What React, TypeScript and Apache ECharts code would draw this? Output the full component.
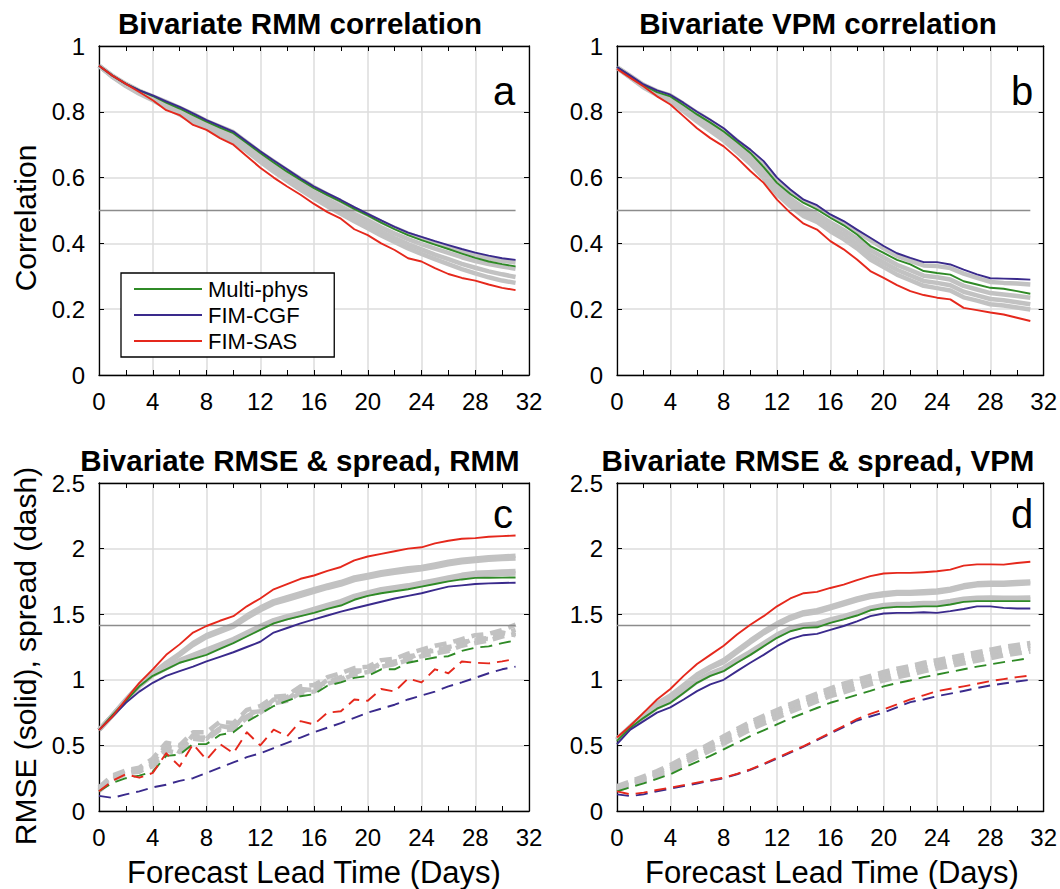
import React, { useEffect, useRef } from "react";
import * as echarts from "echarts";

// ---------- data ----------
const days = [0, 1, 2, 3, 4, 5, 6, 7, 8, 9, 10, 11, 12, 13, 14, 15, 16, 17, 18, 19, 20, 21, 22, 23, 24, 25, 26, 27, 28, 29, 30, 31];
const refDays = [0, 31];
const corrRef = 0.5;
const rmseRef = 1.414;

const legendNames = ["Multi-phys", "FIM-CGF", "FIM-SAS"];
const panelTitles = ["Bivariate RMM correlation", "Bivariate VPM correlation", "Bivariate RMSE & spread, RMM", "Bivariate RMSE & spread, VPM"];
const panelLetters = ["a", "b", "c", "d"];
const corrTicks = [0, 0.2, 0.4, 0.6, 0.8, 1];
const rmseTicks = [0, 0.5, 1, 1.5, 2, 2.5];
const xTicks = [0, 4, 8, 12, 16, 20, 24, 28, 32];

// Panel a: RMM correlation
const aMulti = [0.94, 0.91, 0.885, 0.865, 0.848, 0.828, 0.81, 0.79, 0.77, 0.752, 0.735, 0.705, 0.675, 0.646, 0.618, 0.593, 0.568, 0.547, 0.527, 0.505, 0.485, 0.463, 0.443, 0.425, 0.41, 0.396, 0.383, 0.369, 0.356, 0.345, 0.337, 0.33];
const aCGF = [0.94, 0.91, 0.885, 0.865, 0.85, 0.832, 0.815, 0.795, 0.775, 0.757, 0.74, 0.71, 0.68, 0.652, 0.625, 0.598, 0.573, 0.552, 0.532, 0.51, 0.49, 0.47, 0.45, 0.433, 0.42, 0.407, 0.395, 0.383, 0.372, 0.363, 0.355, 0.35];
const aSAS = [0.94, 0.91, 0.885, 0.86, 0.835, 0.805, 0.79, 0.76, 0.745, 0.72, 0.7, 0.665, 0.63, 0.6, 0.573, 0.548, 0.52, 0.495, 0.475, 0.443, 0.425, 0.4, 0.38, 0.355, 0.345, 0.325, 0.307, 0.295, 0.287, 0.275, 0.265, 0.258];
const aGrey1 = [0.94, 0.91, 0.885, 0.864, 0.847, 0.83, 0.812, 0.793, 0.772, 0.755, 0.738, 0.707, 0.677, 0.649, 0.622, 0.596, 0.571, 0.549, 0.528, 0.506, 0.487, 0.466, 0.447, 0.43, 0.415, 0.402, 0.388, 0.376, 0.364, 0.354, 0.347, 0.342];
const aGrey2 = [0.94, 0.908, 0.882, 0.86, 0.842, 0.822, 0.803, 0.783, 0.762, 0.745, 0.727, 0.696, 0.665, 0.636, 0.607, 0.582, 0.556, 0.534, 0.512, 0.49, 0.47, 0.449, 0.43, 0.413, 0.398, 0.384, 0.371, 0.358, 0.346, 0.337, 0.33, 0.323];
const aGrey3 = [0.94, 0.907, 0.88, 0.857, 0.838, 0.817, 0.797, 0.776, 0.755, 0.736, 0.718, 0.687, 0.656, 0.627, 0.598, 0.572, 0.546, 0.523, 0.5, 0.478, 0.457, 0.436, 0.416, 0.398, 0.382, 0.366, 0.352, 0.338, 0.326, 0.315, 0.306, 0.298];
const aGrey4 = [0.94, 0.906, 0.878, 0.855, 0.835, 0.813, 0.792, 0.77, 0.75, 0.73, 0.71, 0.68, 0.648, 0.618, 0.59, 0.563, 0.537, 0.513, 0.49, 0.467, 0.446, 0.424, 0.404, 0.385, 0.368, 0.352, 0.337, 0.322, 0.309, 0.297, 0.287, 0.28];

// Panel b: VPM correlation
const bMulti = [0.936, 0.908, 0.88, 0.86, 0.847, 0.82, 0.792, 0.767, 0.74, 0.708, 0.675, 0.632, 0.584, 0.55, 0.523, 0.503, 0.478, 0.455, 0.427, 0.392, 0.371, 0.35, 0.336, 0.316, 0.31, 0.305, 0.285, 0.275, 0.265, 0.262, 0.255, 0.247];
const bCGF = [0.936, 0.91, 0.883, 0.865, 0.852, 0.827, 0.8, 0.776, 0.75, 0.715, 0.685, 0.65, 0.6, 0.564, 0.533, 0.516, 0.488, 0.468, 0.442, 0.417, 0.392, 0.37, 0.356, 0.343, 0.343, 0.336, 0.32, 0.306, 0.294, 0.293, 0.292, 0.29];
const bSAS = [0.93, 0.903, 0.877, 0.847, 0.822, 0.786, 0.75, 0.72, 0.695, 0.66, 0.62, 0.584, 0.533, 0.493, 0.46, 0.442, 0.407, 0.382, 0.351, 0.316, 0.295, 0.273, 0.255, 0.243, 0.235, 0.23, 0.204, 0.197, 0.19, 0.184, 0.174, 0.164];
const bGrey1 = [0.936, 0.909, 0.882, 0.863, 0.85, 0.824, 0.797, 0.772, 0.745, 0.712, 0.68, 0.642, 0.593, 0.558, 0.528, 0.51, 0.483, 0.462, 0.436, 0.41, 0.385, 0.362, 0.347, 0.333, 0.331, 0.325, 0.308, 0.295, 0.283, 0.28, 0.278, 0.275];
const bGrey2 = [0.935, 0.907, 0.879, 0.858, 0.843, 0.815, 0.786, 0.759, 0.731, 0.697, 0.663, 0.622, 0.572, 0.537, 0.508, 0.49, 0.464, 0.441, 0.414, 0.38, 0.357, 0.335, 0.319, 0.302, 0.297, 0.29, 0.271, 0.26, 0.249, 0.245, 0.24, 0.235];
const bGrey3 = [0.934, 0.905, 0.876, 0.854, 0.838, 0.808, 0.778, 0.75, 0.722, 0.687, 0.652, 0.609, 0.56, 0.524, 0.495, 0.477, 0.45, 0.427, 0.399, 0.365, 0.342, 0.32, 0.303, 0.286, 0.28, 0.273, 0.253, 0.242, 0.231, 0.227, 0.221, 0.215];
const bGrey4 = [0.933, 0.904, 0.874, 0.851, 0.833, 0.802, 0.771, 0.742, 0.713, 0.678, 0.642, 0.598, 0.55, 0.513, 0.483, 0.465, 0.437, 0.413, 0.385, 0.351, 0.328, 0.305, 0.288, 0.271, 0.264, 0.257, 0.236, 0.226, 0.215, 0.211, 0.205, 0.199];

// Panel c: RMM RMSE (solid) and spread (dash)
const cMulti = [0.617, 0.73, 0.84, 0.95, 1.03, 1.08, 1.13, 1.16, 1.19, 1.235, 1.28, 1.33, 1.38, 1.43, 1.46, 1.485, 1.51, 1.54, 1.566, 1.61, 1.64, 1.66, 1.675, 1.69, 1.71, 1.73, 1.75, 1.765, 1.777, 1.778, 1.779, 1.78];
const cCGF = [0.617, 0.72, 0.825, 0.91, 0.977, 1.03, 1.066, 1.1, 1.14, 1.175, 1.21, 1.25, 1.29, 1.36, 1.395, 1.43, 1.46, 1.49, 1.52, 1.545, 1.57, 1.595, 1.62, 1.64, 1.66, 1.685, 1.71, 1.72, 1.73, 1.735, 1.738, 1.74];
const cSAS = [0.617, 0.72, 0.85, 0.977, 1.08, 1.19, 1.27, 1.36, 1.41, 1.45, 1.485, 1.56, 1.62, 1.69, 1.73, 1.77, 1.795, 1.83, 1.86, 1.91, 1.94, 1.96, 1.98, 2.0, 2.01, 2.04, 2.06, 2.075, 2.08, 2.09, 2.095, 2.1];
const cGrey1 = [0.617, 0.73, 0.85, 0.96, 1.05, 1.13, 1.2, 1.28, 1.34, 1.38, 1.42, 1.49, 1.55, 1.6, 1.63, 1.66, 1.69, 1.72, 1.745, 1.78, 1.8, 1.82, 1.835, 1.85, 1.86, 1.88, 1.9, 1.915, 1.925, 1.935, 1.94, 1.945];
const cGrey2 = [0.617, 0.728, 0.845, 0.955, 1.04, 1.12, 1.19, 1.265, 1.325, 1.365, 1.405, 1.47, 1.53, 1.58, 1.61, 1.64, 1.67, 1.7, 1.725, 1.76, 1.78, 1.8, 1.815, 1.83, 1.842, 1.86, 1.88, 1.895, 1.905, 1.915, 1.92, 1.925];
const cGrey3 = [0.617, 0.73, 0.845, 0.955, 1.04, 1.095, 1.15, 1.19, 1.23, 1.27, 1.31, 1.36, 1.41, 1.455, 1.485, 1.51, 1.54, 1.57, 1.6, 1.64, 1.665, 1.69, 1.705, 1.72, 1.74, 1.76, 1.78, 1.8, 1.815, 1.82, 1.825, 1.83];
const cGrey4 = [0.617, 0.728, 0.842, 0.95, 1.035, 1.088, 1.14, 1.18, 1.215, 1.255, 1.295, 1.345, 1.395, 1.44, 1.47, 1.497, 1.525, 1.555, 1.583, 1.625, 1.652, 1.675, 1.69, 1.705, 1.725, 1.745, 1.765, 1.783, 1.797, 1.803, 1.807, 1.81];
const cMultiSpread = [0.15, 0.215, 0.25, 0.27, 0.3, 0.42, 0.43, 0.51, 0.51, 0.58, 0.6, 0.68, 0.74, 0.8, 0.84, 0.875, 0.89, 0.955, 0.98, 1.015, 1.03, 1.08, 1.08, 1.13, 1.15, 1.17, 1.18, 1.22, 1.245, 1.255, 1.28, 1.3];
const cCGFSpread = [0.115, 0.1, 0.127, 0.15, 0.18, 0.2, 0.23, 0.25, 0.29, 0.33, 0.37, 0.41, 0.44, 0.48, 0.52, 0.56, 0.6, 0.635, 0.67, 0.71, 0.75, 0.78, 0.81, 0.85, 0.88, 0.91, 0.95, 0.98, 1.015, 1.05, 1.08, 1.1];
const cSASSpread = [0.15, 0.23, 0.28, 0.254, 0.29, 0.44, 0.34, 0.51, 0.39, 0.51, 0.44, 0.6, 0.5, 0.62, 0.57, 0.685, 0.66, 0.75, 0.76, 0.85, 0.84, 0.93, 0.91, 1.01, 0.98, 1.08, 1.05, 1.14, 1.13, 1.125, 1.14, 1.16];
const cGreySpread1 = [0.17, 0.26, 0.3, 0.32, 0.37, 0.5, 0.45, 0.58, 0.55, 0.65, 0.63, 0.75, 0.76, 0.85, 0.85, 0.93, 0.92, 1.0, 1.0, 1.07, 1.07, 1.13, 1.12, 1.18, 1.19, 1.24, 1.23, 1.29, 1.3, 1.32, 1.35, 1.38];
const cGreySpread2 = [0.16, 0.25, 0.29, 0.3, 0.35, 0.48, 0.47, 0.56, 0.56, 0.63, 0.64, 0.72, 0.78, 0.83, 0.87, 0.91, 0.94, 0.98, 1.02, 1.05, 1.09, 1.11, 1.14, 1.16, 1.21, 1.22, 1.25, 1.27, 1.32, 1.31, 1.36, 1.34];
const cGreySpread3 = [0.18, 0.27, 0.31, 0.33, 0.4, 0.52, 0.5, 0.6, 0.6, 0.68, 0.67, 0.77, 0.8, 0.87, 0.88, 0.95, 0.96, 1.02, 1.05, 1.09, 1.1, 1.15, 1.16, 1.2, 1.23, 1.26, 1.28, 1.31, 1.34, 1.35, 1.38, 1.42];
const cGreySpread4 = [0.15, 0.24, 0.28, 0.31, 0.34, 0.46, 0.44, 0.55, 0.54, 0.62, 0.62, 0.71, 0.75, 0.82, 0.84, 0.9, 0.91, 0.97, 1.0, 1.04, 1.06, 1.1, 1.12, 1.15, 1.18, 1.2, 1.22, 1.26, 1.28, 1.3, 1.33, 1.35];

// Panel d: VPM RMSE (solid) and spread (dash)
const dMulti = [0.535, 0.635, 0.71, 0.78, 0.825, 0.9, 0.977, 1.03, 1.066, 1.13, 1.19, 1.256, 1.32, 1.37, 1.396, 1.4, 1.434, 1.46, 1.49, 1.53, 1.548, 1.556, 1.556, 1.56, 1.56, 1.574, 1.594, 1.6, 1.6, 1.6, 1.6, 1.6];
const dCGF = [0.51, 0.62, 0.685, 0.75, 0.79, 0.85, 0.914, 0.965, 1.0, 1.066, 1.13, 1.19, 1.256, 1.31, 1.34, 1.35, 1.38, 1.41, 1.446, 1.485, 1.505, 1.51, 1.51, 1.515, 1.51, 1.523, 1.54, 1.56, 1.56, 1.548, 1.543, 1.543];
const dSAS = [0.56, 0.65, 0.75, 0.85, 0.93, 1.03, 1.12, 1.19, 1.26, 1.345, 1.42, 1.485, 1.56, 1.62, 1.66, 1.67, 1.7, 1.726, 1.76, 1.79, 1.81, 1.815, 1.815, 1.82, 1.827, 1.84, 1.87, 1.88, 1.88, 1.878, 1.89, 1.9];
const dGrey1 = [0.55, 0.645, 0.735, 0.82, 0.88, 0.96, 1.04, 1.1, 1.15, 1.225, 1.3, 1.37, 1.43, 1.48, 1.515, 1.53, 1.56, 1.59, 1.62, 1.645, 1.66, 1.67, 1.67, 1.675, 1.68, 1.695, 1.72, 1.735, 1.74, 1.74, 1.745, 1.75];
const dGrey2 = [0.545, 0.64, 0.728, 0.81, 0.87, 0.95, 1.03, 1.09, 1.135, 1.21, 1.285, 1.355, 1.415, 1.465, 1.5, 1.515, 1.545, 1.575, 1.605, 1.63, 1.645, 1.655, 1.655, 1.66, 1.665, 1.68, 1.705, 1.72, 1.725, 1.725, 1.73, 1.735];
const dGrey3 = [0.54, 0.64, 0.72, 0.795, 0.845, 0.92, 0.995, 1.05, 1.09, 1.155, 1.215, 1.28, 1.345, 1.395, 1.42, 1.43, 1.46, 1.485, 1.515, 1.55, 1.57, 1.578, 1.58, 1.585, 1.585, 1.6, 1.618, 1.625, 1.627, 1.625, 1.625, 1.627];
const dGrey4 = [0.538, 0.637, 0.715, 0.788, 0.835, 0.91, 0.985, 1.04, 1.078, 1.142, 1.2, 1.266, 1.332, 1.382, 1.408, 1.415, 1.447, 1.472, 1.502, 1.54, 1.559, 1.567, 1.568, 1.572, 1.572, 1.587, 1.606, 1.612, 1.613, 1.612, 1.612, 1.613];
const dMultiSpread = [0.15, 0.18, 0.21, 0.245, 0.28, 0.33, 0.375, 0.42, 0.47, 0.52, 0.57, 0.615, 0.66, 0.705, 0.745, 0.785, 0.825, 0.855, 0.885, 0.915, 0.95, 0.975, 0.995, 1.02, 1.04, 1.06, 1.08, 1.1, 1.117, 1.135, 1.15, 1.167];
const dCGFSpread = [0.127, 0.114, 0.127, 0.15, 0.17, 0.19, 0.21, 0.23, 0.25, 0.28, 0.313, 0.355, 0.4, 0.445, 0.49, 0.54, 0.59, 0.64, 0.69, 0.72, 0.75, 0.79, 0.83, 0.85, 0.875, 0.895, 0.915, 0.937, 0.957, 0.972, 0.987, 1.0];
const dSASSpread = [0.15, 0.127, 0.14, 0.16, 0.178, 0.197, 0.216, 0.235, 0.254, 0.283, 0.317, 0.36, 0.406, 0.45, 0.495, 0.545, 0.596, 0.648, 0.7, 0.74, 0.774, 0.812, 0.85, 0.882, 0.914, 0.932, 0.95, 0.97, 0.99, 1.005, 1.02, 1.033];
const dGreySpread1 = [0.17, 0.205, 0.24, 0.28, 0.32, 0.375, 0.43, 0.48, 0.535, 0.59, 0.645, 0.69, 0.735, 0.78, 0.82, 0.86, 0.9, 0.93, 0.96, 0.99, 1.02, 1.045, 1.065, 1.09, 1.11, 1.13, 1.15, 1.17, 1.19, 1.21, 1.225, 1.24];
const dGreySpread2 = [0.18, 0.215, 0.25, 0.29, 0.335, 0.39, 0.445, 0.5, 0.555, 0.61, 0.665, 0.71, 0.755, 0.8, 0.84, 0.88, 0.92, 0.95, 0.98, 1.01, 1.04, 1.065, 1.085, 1.11, 1.13, 1.15, 1.17, 1.19, 1.21, 1.23, 1.245, 1.26];
const dGreySpread3 = [0.19, 0.225, 0.265, 0.305, 0.35, 0.405, 0.46, 0.515, 0.57, 0.625, 0.68, 0.725, 0.77, 0.815, 0.855, 0.895, 0.935, 0.97, 1.0, 1.03, 1.06, 1.085, 1.105, 1.13, 1.15, 1.17, 1.19, 1.21, 1.23, 1.25, 1.265, 1.28];
const dGreySpread4 = [0.16, 0.195, 0.23, 0.268, 0.305, 0.357, 0.41, 0.46, 0.512, 0.567, 0.62, 0.665, 0.71, 0.755, 0.795, 0.835, 0.875, 0.905, 0.935, 0.965, 0.995, 1.02, 1.04, 1.065, 1.085, 1.105, 1.125, 1.145, 1.165, 1.185, 1.2, 1.215];

// ---------- styling ----------
const FONT = "'Liberation Sans', Arial, Helvetica, sans-serif";
const GREEN = "#2f8a26";
const PURPLE = "#3a2a8c";
const RED = "#e5281c";
const GREY = "#c2c2c2";
const REF = "#8c8c8c";
const DASH = [12, 7];

type Panel = {
  grid: { left: number; top: number; width: number; height: number };
  ticks: number[];
  ref: number;
  solid: { multi: number[]; cgf: number[]; sas: number[]; greys: number[][] };
  spread?: { multi: number[]; cgf: number[]; sas: number[]; greys: number[][] };
};

const panels: Panel[] = [
  {
    grid: { left: 99, top: 46, width: 430, height: 329 },
    ticks: corrTicks,
    ref: corrRef,
    solid: { multi: aMulti, cgf: aCGF, sas: aSAS, greys: [aGrey1, aGrey2, aGrey3, aGrey4] },
  },
  {
    grid: { left: 617, top: 46, width: 430, height: 329 },
    ticks: corrTicks,
    ref: corrRef,
    solid: { multi: bMulti, cgf: bCGF, sas: bSAS, greys: [bGrey1, bGrey2, bGrey3, bGrey4] },
  },
  {
    grid: { left: 99, top: 483, width: 430, height: 328 },
    ticks: rmseTicks,
    ref: rmseRef,
    solid: { multi: cMulti, cgf: cCGF, sas: cSAS, greys: [cGrey1, cGrey2, cGrey3, cGrey4] },
    spread: { multi: cMultiSpread, cgf: cCGFSpread, sas: cSASSpread, greys: [cGreySpread1, cGreySpread2, cGreySpread3, cGreySpread4] },
  },
  {
    grid: { left: 617, top: 483, width: 430, height: 328 },
    ticks: rmseTicks,
    ref: rmseRef,
    solid: { multi: dMulti, cgf: dCGF, sas: dSAS, greys: [dGrey1, dGrey2, dGrey3, dGrey4] },
    spread: { multi: dMultiSpread, cgf: dCGFSpread, sas: dSASSpread, greys: [dGreySpread1, dGreySpread2, dGreySpread3, dGreySpread4] },
  },
];

function toPoints(vals: number[]) {
  return days.map((d, i) => [d, vals[i]]);
}

function lineSeries(name: string, vals: number[], axisIdx: number, color: string, width: number, dashed: boolean, z: number) {
  return {
    type: "line",
    name,
    xAxisIndex: axisIdx * 2,
    yAxisIndex: axisIdx * 2,
    data: toPoints(vals),
    showSymbol: false,
    symbol: "none",
    silent: true,
    z,
    itemStyle: { color },
    lineStyle: { color, width, type: dashed ? DASH : "solid", cap: "butt", join: "round" },
  };
}

function buildOption() {
  const grid: any[] = [];
  const xAxis: any[] = [];
  const yAxis: any[] = [];
  const series: any[] = [];
  const graphic: any[] = [];

  const axisLine = { show: true, onZero: false, lineStyle: { color: "#000", width: 1.3 } };
  const axisTick = { show: true, inside: true, length: 5, lineStyle: { color: "#000", width: 1 } };

  panels.forEach((p, i) => {
    grid.push({ ...p.grid, containLabel: false });
    const xMin = xTicks[0];
    const xMax = xTicks[xTicks.length - 1];
    const xInt = xTicks[1] - xTicks[0];
    const yMin = p.ticks[0];
    const yMax = p.ticks[p.ticks.length - 1];
    const yInt = p.ticks[1] - p.ticks[0];

    xAxis.push({
      gridIndex: i, type: "value", position: "bottom", min: xMin, max: xMax, interval: xInt,
      axisLine, axisTick,
      minorTick: { show: true, splitNumber: 2, length: 5, lineStyle: { color: "#000", width: 1 } },
      splitLine: { show: true, lineStyle: { color: "#dcdcdc", width: 1.5 } },
      axisLabel: { show: true, fontSize: 24, color: "#000", margin: 14, fontFamily: FONT },
    });
    xAxis.push({
      gridIndex: i, type: "value", position: "top", min: xMin, max: xMax, interval: xInt,
      axisLine, axisTick,
      minorTick: { show: true, splitNumber: 2, length: 5, lineStyle: { color: "#000", width: 1 } },
      splitLine: { show: false },
      axisLabel: { show: false },
    });
    yAxis.push({
      gridIndex: i, type: "value", position: "left", min: yMin, max: yMax, interval: yInt,
      axisLine, axisTick,
      splitLine: { show: true, lineStyle: { color: "#dcdcdc", width: 1.5 } },
      axisLabel: {
        show: true, fontSize: 24, color: "#000", margin: 14, fontFamily: FONT,
        formatter: (v: number) => String(parseFloat(v.toFixed(2))),
      },
    });
    yAxis.push({
      gridIndex: i, type: "value", position: "right", min: yMin, max: yMax, interval: yInt,
      axisLine, axisTick,
      splitLine: { show: false },
      axisLabel: { show: false },
    });

    const suffix = i === 0 ? "" : ` (${panelLetters[i]})`;
    // grey ensemble members
    p.solid.greys.forEach((g, k) => series.push(lineSeries(`grey${i}-${k}`, g, i, GREY, 4.5, false, 2)));
    if (p.spread) p.spread.greys.forEach((g, k) => series.push(lineSeries(`greyS${i}-${k}`, g, i, GREY, 4.5, true, 2)));
    // reference line
    series.push({
      type: "line", name: `ref${i}`, xAxisIndex: i * 2, yAxisIndex: i * 2,
      data: refDays.map((d) => [d, p.ref]), showSymbol: false, symbol: "none", silent: true, z: 3,
      lineStyle: { color: REF, width: 1.3 }, itemStyle: { color: REF },
    });
    if (p.spread) {
      series.push(lineSeries(`${legendNames[0]} spread${suffix}`, p.spread.multi, i, GREEN, 1.9, true, 4));
      series.push(lineSeries(`${legendNames[2]} spread${suffix}`, p.spread.sas, i, RED, 1.9, true, 5));
      series.push(lineSeries(`${legendNames[1]} spread${suffix}`, p.spread.cgf, i, PURPLE, 1.9, true, 4));
    }
    series.push(lineSeries(`${legendNames[0]}${suffix}`, p.solid.multi, i, GREEN, 1.9, false, 5));
    series.push(lineSeries(`${legendNames[1]}${suffix}`, p.solid.cgf, i, PURPLE, 1.9, false, 5));
    series.push(lineSeries(`${legendNames[2]}${suffix}`, p.solid.sas, i, RED, 1.9, false, 5));

    // titles
    const g = p.grid;
    const isTop = i < 2;
    graphic.push({
      type: "text", x: g.left + g.width / 2 - 14, y: isTop ? 23 : 460, z: 10,
      style: { text: panelTitles[i], font: `bold 29.5px ${FONT}`, fill: "#000", align: "center", verticalAlign: "middle" },
    });
    // panel letter
    graphic.push({
      type: "text", x: g.left + g.width - 36, y: g.top + (isTop ? 45 : 31), z: 10,
      style: { text: panelLetters[i], font: `40px ${FONT}`, fill: "#000", align: "left", verticalAlign: "middle" },
    });
    // x axis name for bottom panels
    if (!isTop) {
      graphic.push({
        type: "text", x: g.left + g.width / 2, y: 872, z: 10,
        style: { text: "Forecast Lead Time (Days)", font: `31px ${FONT}`, fill: "#000", align: "center", verticalAlign: "middle" },
      });
    }
  });

  // y axis names
  graphic.push({
    type: "text", x: 25, y: 218, rotation: Math.PI / 2, z: 10,
    style: { text: "Correlation", font: `30px ${FONT}`, fill: "#000", align: "center", verticalAlign: "middle" },
  });
  graphic.push({
    type: "text", x: 25, y: 656, rotation: Math.PI / 2, z: 10,
    style: { text: "RMSE (solid), spread (dash)", font: `30px ${FONT}`, fill: "#000", align: "center", verticalAlign: "middle" },
  });

  return {
    animation: false,
    backgroundColor: "#fff",
    textStyle: { fontFamily: FONT },
    grid,
    xAxis,
    yAxis,
    series,
    graphic,
    legend: {
      data: legendNames,
      left: 121,
      top: 273,
      orient: "vertical",
      icon: "rect",
      itemWidth: 68,
      itemHeight: 2,
      itemGap: 4,
      selectedMode: false,
      padding: [5, 26, 5, 13],
      borderColor: "#000",
      borderWidth: 1.3,
      backgroundColor: "#fff",
      z: 20,
      textStyle: { fontSize: 22, color: "#000", fontFamily: FONT, padding: [0, 0, 0, 1] },
    },
  };
}

export default function App() {
  const ref = useRef<HTMLDivElement>(null);
  useEffect(() => {
    document.body.style.margin = "0";
    if (!ref.current) return;
    const chart = echarts.init(ref.current, undefined, { renderer: "svg" });
    chart.setOption(buildOption() as any);
    return () => chart.dispose();
  }, []);
  return <div ref={ref} style={{ width: 1060, height: 889 }} />;
}
